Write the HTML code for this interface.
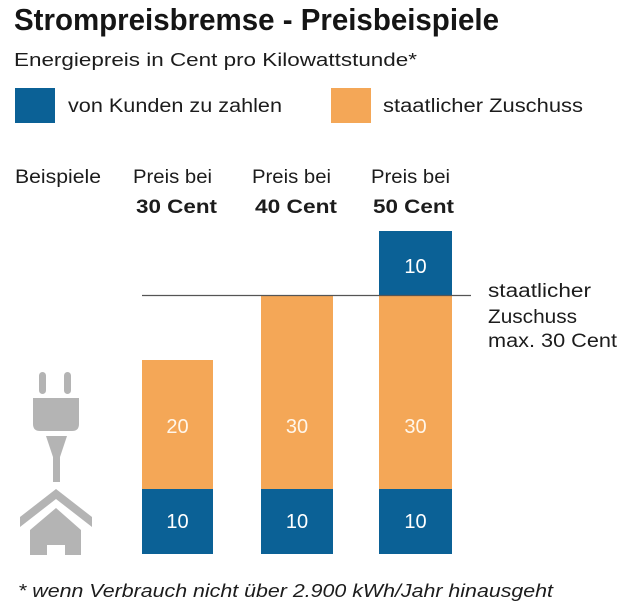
<!DOCTYPE html>
<html>
<head>
<meta charset="utf-8">
<style>
  html, body { margin: 0; padding: 0; background: #ffffff; }
  svg { display: block; }
  text { font-family: "Liberation Sans", "DejaVu Sans", sans-serif; fill: #1c1c1c; }
</style>
</head>
<body>
<svg width="639" height="611" viewBox="0 0 639 611" xmlns="http://www.w3.org/2000/svg">
  <rect x="0" y="0" width="639" height="611" fill="#ffffff"/>

  <!-- Title -->
  <text x="14" y="30" font-size="31" font-weight="bold" textLength="485" lengthAdjust="spacingAndGlyphs" style="fill:#151515">Strompreisbremse - Preisbeispiele</text>

  <!-- Subtitle -->
  <text x="14" y="66" font-size="18" textLength="403" lengthAdjust="spacingAndGlyphs">Energiepreis in Cent pro Kilowattstunde*</text>

  <!-- Legend -->
  <rect x="15" y="88" width="40" height="35" fill="#0b6196"/>
  <text x="68" y="112" font-size="19" textLength="214" lengthAdjust="spacingAndGlyphs">von Kunden zu zahlen</text>
  <rect x="331" y="88" width="40" height="35" fill="#f4a757"/>
  <text x="383" y="112" font-size="19" textLength="200" lengthAdjust="spacingAndGlyphs">staatlicher Zuschuss</text>

  <!-- Column headers -->
  <text x="15" y="183" font-size="19" textLength="86" lengthAdjust="spacingAndGlyphs">Beispiele</text>

  <text x="133" y="183" font-size="19" textLength="79" lengthAdjust="spacingAndGlyphs">Preis bei</text>
  <text x="136" y="213" font-size="19" font-weight="bold" textLength="81" lengthAdjust="spacingAndGlyphs">30 Cent</text>

  <text x="252" y="183" font-size="19" textLength="79" lengthAdjust="spacingAndGlyphs">Preis bei</text>
  <text x="255" y="213" font-size="19" font-weight="bold" textLength="82" lengthAdjust="spacingAndGlyphs">40 Cent</text>

  <text x="371" y="183" font-size="19" textLength="79" lengthAdjust="spacingAndGlyphs">Preis bei</text>
  <text x="373" y="213" font-size="19" font-weight="bold" textLength="81" lengthAdjust="spacingAndGlyphs">50 Cent</text>

  <!-- Bars -->
  <!-- Bar 1 -->
  <rect x="142" y="360" width="71" height="129" fill="#f4a757"/>
  <rect x="142" y="489" width="71" height="65" fill="#0b6196"/>
  <!-- Bar 2 -->
  <rect x="261" y="295" width="72" height="194" fill="#f4a757"/>
  <rect x="261" y="489" width="72" height="65" fill="#0b6196"/>
  <!-- Bar 3 -->
  <rect x="379" y="231" width="73" height="64" fill="#0b6196"/>
  <rect x="379" y="295" width="73" height="194" fill="#f4a757"/>
  <rect x="379" y="489" width="73" height="65" fill="#0b6196"/>

  <!-- Max subsidy line -->
  <line x1="142" y1="295.5" x2="471" y2="295.5" stroke="#555555" stroke-width="1.2"/>

  <!-- Bar value labels -->
  <g font-size="20" text-anchor="middle">
    <text x="177.5" y="433" style="fill:#fff6ea">20</text>
    <text x="177.5" y="528" style="fill:#ffffff">10</text>
    <text x="297" y="433" style="fill:#fff6ea">30</text>
    <text x="297" y="528" style="fill:#ffffff">10</text>
    <text x="415.5" y="273" style="fill:#ffffff">10</text>
    <text x="415.5" y="433" style="fill:#fff6ea">30</text>
    <text x="415.5" y="528" style="fill:#ffffff">10</text>
  </g>

  <!-- Annotation -->
  <text x="488" y="297" font-size="19" textLength="103" lengthAdjust="spacingAndGlyphs">staatlicher</text>
  <text x="488" y="323" font-size="19" textLength="89" lengthAdjust="spacingAndGlyphs">Zuschuss</text>
  <text x="488" y="347" font-size="19" textLength="129" lengthAdjust="spacingAndGlyphs">max. 30 Cent</text>

  <!-- Plug icon -->
  <g fill="#b4b4b4">
    <rect x="39" y="372" width="7" height="22" rx="3.5"/>
    <rect x="64" y="372" width="7" height="22" rx="3.5"/>
    <path d="M33 398 H79 V424 Q79 431 72 431 H40 Q33 431 33 424 Z"/>
    <polygon points="46,436 67,436 60,457 53,457"/>
    <rect x="53" y="455" width="7" height="27"/>
    <!-- House roof -->
    <polygon points="20,517 56,489 92,517 92,527 56,499 20,527"/>
    <!-- House body with door -->
    <path d="M30 530 L56 508 L81 530 V555 H65 V545 H47 V555 H30 Z"/>
  </g>

  <!-- Footnote -->
  <text x="18" y="597" font-size="18" font-style="italic" textLength="535" lengthAdjust="spacingAndGlyphs">* wenn Verbrauch nicht über 2.900 kWh/Jahr hinausgeht</text>
</svg>
</body>
</html>
